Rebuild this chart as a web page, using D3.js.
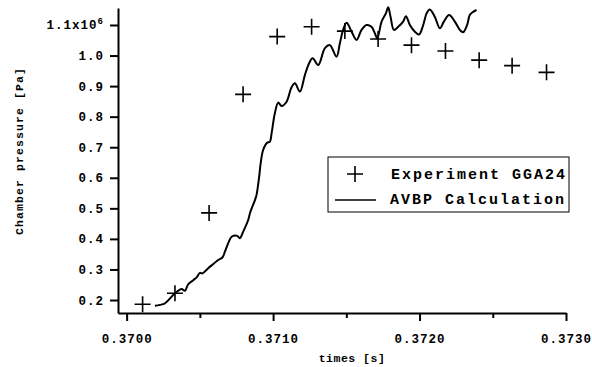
<!DOCTYPE html>
<html>
<head>
<meta charset="utf-8">
<script src="https://cdn.jsdelivr.net/npm/d3@7"></script>
<style>
  body { margin: 0; background: #fff; }
  text { font-family: "Liberation Mono", "DejaVu Sans Mono", monospace; font-weight: bold; fill: #000; }
</style>
</head>
<body>
<div id="chart_container"></div>
<script>
// experiment points (time in s, pressure in 10^6 Pa)
const expTime = [0.370109, 0.37033, 0.370563, 0.370795, 0.371028, 0.371263, 0.37149,
    0.371717, 0.371945, 0.372177, 0.372407, 0.372632, 0.372867];
const expPressure = [0.186, 0.222, 0.485, 0.873, 1.062, 1.094, 1.080,
    1.054, 1.034, 1.015, 0.985, 0.967, 0.945];

// AVBP calculation trace
const calcTime = [0.370193, 0.370227, 0.370261, 0.37033, 0.370375, 0.370398, 0.37042, 0.370455,
    0.370478, 0.3705, 0.370516, 0.370557, 0.370625, 0.370655, 0.370671, 0.370698, 0.370717,
    0.370755, 0.370773, 0.370796, 0.37083, 0.370842, 0.370876, 0.370887, 0.370905, 0.370915,
    0.370932, 0.37096, 0.370978, 0.37099, 0.371012, 0.371035, 0.371058, 0.371092, 0.371126,
    0.371149, 0.371183, 0.371217, 0.371246, 0.37127, 0.371308, 0.371354, 0.371388, 0.371433,
    0.371456, 0.371478, 0.371502, 0.371536, 0.37157, 0.371604, 0.371638, 0.371672, 0.371695,
    0.371711, 0.371741, 0.37177, 0.371786, 0.371802, 0.371825, 0.371854, 0.371888, 0.371907,
    0.371934, 0.371968, 0.371997, 0.372025, 0.372048, 0.37207, 0.372104, 0.372139, 0.372166,
    0.372202, 0.372241, 0.372275, 0.372298, 0.372325, 0.372343, 0.372366, 0.372389];
const calcPressure = [0.181, 0.184, 0.189, 0.222, 0.236, 0.230, 0.251, 0.265,
    0.274, 0.289, 0.287, 0.304, 0.331, 0.340, 0.358, 0.391, 0.407,
    0.410, 0.402, 0.424, 0.462, 0.484, 0.527, 0.544, 0.604, 0.647,
    0.691, 0.715, 0.718, 0.746, 0.811, 0.846, 0.835, 0.849, 0.896,
    0.909, 0.882, 0.936, 0.975, 0.991, 0.969, 1.024, 1.034, 0.996,
    1.040, 1.084, 1.107, 1.078, 1.051, 1.084, 1.100, 1.094, 1.073,
    1.056, 1.111, 1.138, 1.158, 1.127, 1.084, 1.094, 1.111, 1.129,
    1.100, 1.078, 1.069, 1.100, 1.138, 1.151, 1.127, 1.089, 1.111,
    1.133, 1.111, 1.084, 1.076, 1.100, 1.133, 1.143, 1.149];

const xMajorTicks = [0.370, 0.371, 0.372, 0.373];
const xMinorTicks = [0.3705, 0.3715, 0.3725];
const yTicks = [0.2, 0.3, 0.4, 0.5, 0.6, 0.7, 0.8, 0.9, 1.0, 1.1];

const legendLabels = ["Experiment GGA24", "AVBP Calculation"];

const margin = { top: 8, right: 26, bottom: 54, left: 118 },
    width = 592 - margin.left - margin.right,
    height = 367 - margin.top - margin.bottom;

const svg = d3.select("#chart_container")
    .append("svg")
    .attr("width", 592)
    .attr("height", 367)
    .append("g")
    .attr("transform", `translate(${margin.left}, ${margin.top})`);

const x = d3.scaleLinear()
    .domain([0.369941, 0.3730])
    .range([0, width]);
const y = d3.scaleLinear()
    .domain([0.1575, 1.1556])
    .range([height, 0]);

// X axis, minor ticks first
svg.append("g")
    .attr("transform", `translate(0, ${height})`)
    .call(d3.axisBottom(x).tickValues(xMinorTicks).tickSize(5).tickSizeOuter(0).tickFormat(""))
    .call(g => g.select(".domain").remove())
    .selectAll("line").attr("stroke-width", 2);

const xAxis = svg.append("g")
    .attr("transform", `translate(0, ${height})`)
    .call(d3.axisBottom(x).tickValues(xMajorTicks).tickSize(8).tickSizeOuter(0).tickFormat(d3.format(".4f")));
xAxis.select(".domain").attr("stroke-width", 2);
xAxis.selectAll("line").attr("stroke-width", 2);
xAxis.selectAll("text")
    .attr("y", 30)
    .attr("dy", 0)
    .style("font-size", "12.5px")
    .style("letter-spacing", "1px");

// Y axis
const yAxis = svg.append("g")
    .call(d3.axisLeft(y).tickValues(yTicks).tickSize(8).tickSizeOuter(0).tickFormat(d3.format(".1f")));
yAxis.select(".domain").attr("stroke-width", 2);
yAxis.selectAll("line").attr("stroke-width", 2);
yAxis.selectAll("text")
    .attr("x", -14)
    .style("font-size", "12.5px")
    .style("letter-spacing", "1px");
yAxis.selectAll(".tick text")
    .filter(d => d === 1.1)
    .text("1.1x10")
    .append("tspan")
    .attr("dy", "-0.6em")
    .style("font-size", "9px")
    .text("6");

svg.selectAll(".domain, .tick line").attr("stroke", "#000");

// axis titles
svg.append("text")
    .attr("x", 234)
    .attr("y", 354)
    .attr("text-anchor", "middle")
    .style("font-size", "11.5px")
    .style("letter-spacing", "0.5px")
    .text("times [s]");

svg.append("text")
    .attr("transform", `translate(-95, 143)rotate(-90)`)
    .attr("text-anchor", "middle")
    .style("font-size", "11.5px")
    .style("letter-spacing", "1.1px")
    .text("Chamber pressure [Pa]");

// calculation line
const line = d3.line()
    .x((d, i) => x(calcTime[i]))
    .y(d => y(d))
    .curve(d3.curveCatmullRom);

svg.append("path")
    .datum(calcPressure)
    .attr("d", line)
    .attr("fill", "none")
    .attr("stroke", "#000")
    .attr("stroke-width", 2);

// experiment crosses
svg.selectAll(".exp")
    .data(expPressure)
    .enter()
    .append("path")
    .classed("exp", true)
    .attr("transform", (d, i) => `translate(${x(expTime[i])}, ${y(d)})`)
    .attr("d", "M-8,0H8M0,-8V8")
    .attr("stroke", "#000")
    .attr("stroke-width", 1.6);

// legend
const legend = svg.append("g")
    .attr("transform", `translate(${328 - margin.left}, ${157 - margin.top})`);
legend.append("rect")
    .attr("width", 241)
    .attr("height", 55)
    .attr("fill", "#fff")
    .attr("stroke", "#000")
    .attr("stroke-width", 1);
legend.append("path")
    .attr("d", "M19,17H35M27,9V25")
    .attr("stroke", "#000")
    .attr("stroke-width", 1.6);
legend.append("line")
    .attr("x1", 7).attr("x2", 48)
    .attr("y1", 43).attr("y2", 43)
    .attr("stroke", "#000")
    .attr("stroke-width", 1.6);
legend.selectAll(".leg-text")
    .data(legendLabels)
    .enter()
    .append("text")
    .classed("leg-text", true)
    .attr("x", (d, i) => i === 0 ? 63 : 62)
    .attr("y", (d, i) => 22 + i * 25)
    .style("font-size", "15px")
    .style("letter-spacing", "2px")
    .text(d => d);
</script>
</body>
</html>
